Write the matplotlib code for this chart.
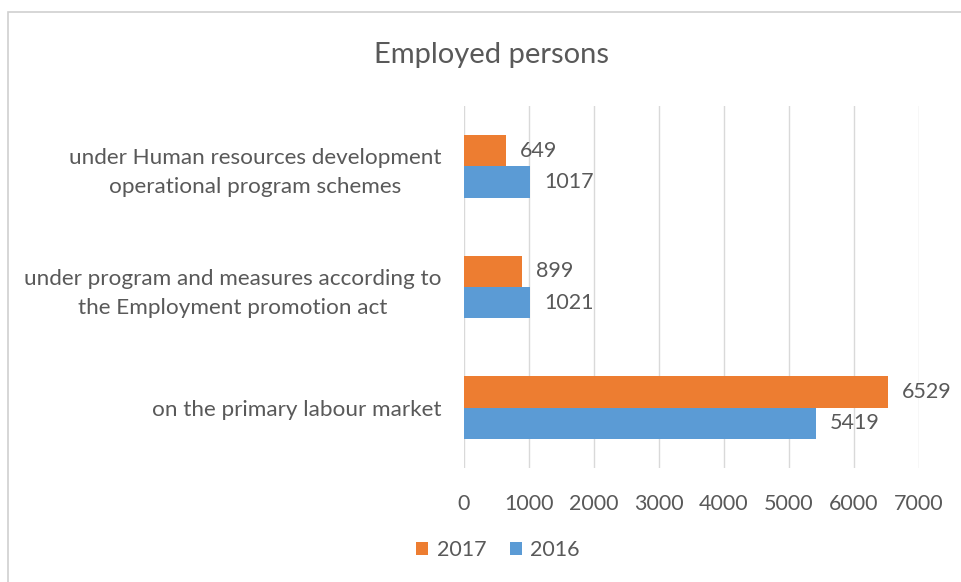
import matplotlib
matplotlib.use("Agg")
import matplotlib.pyplot as plt
from matplotlib.patches import Rectangle
import numpy as np

plt.rcParams['font.family'] = ['Lato', 'DejaVu Sans']

categories = [
    "under Human resources development\noperational program schemes",
    "under program and measures according to\nthe Employment promotion act",
    "on the primary labour market",
]
values_2017 = [649, 899, 6529]
values_2016 = [1017, 1021, 5419]
series_labels = ["2017", "2016"]
x_ticks = [0, 1000, 2000, 3000, 4000, 5000, 6000, 7000]

ORANGE = "#ED7D31"
BLUE = "#5B9BD5"
TEXT = "#595959"
GRID = "#D9D9D9"
FS = 15.5

fig = plt.figure(figsize=(9.62, 5.82), dpi=100)
ax = fig.add_axes([464 / 962, 1 - 468 / 582, (919 - 464) / 962, (468 - 106) / 582])

# outer chart frame (left and top edges visible)
fig.patches.append(Rectangle((8 / 962, -0.1), 1.2, 1 - 12 / 582 + 0.1,
                             transform=fig.transFigure, fill=False,
                             edgecolor="#D0D0D0", linewidth=1.2))

n = len(categories)
pos = np.arange(n)[::-1]  # first category on top
h = 0.26

b17 = ax.barh(pos + h / 2, values_2017, height=h, color=ORANGE, label=series_labels[0], zorder=3)
b16 = ax.barh(pos - h / 2, values_2016, height=h, color=BLUE, label=series_labels[1], zorder=3)

for bars, vals in ((b17, values_2017), (b16, values_2016)):
    for bar, v in zip(bars, vals):
        ax.annotate(f"{v}", (v, bar.get_y() + bar.get_height() / 2),
                    xytext=(10, 0), textcoords="offset points",
                    va="center", ha="left", fontsize=FS, color=TEXT)

ax.set_xlim(0, 7000)
ax.set_ylim(-0.5, n - 0.5)
ax.set_xticks(x_ticks)
ax.set_xticklabels([str(t) for t in x_ticks], fontsize=FS, color=TEXT)
ax.set_yticks(pos)
ax.set_yticklabels(categories, fontsize=16.2, color=TEXT, multialignment="center",
                   linespacing=1.55)
ax.tick_params(axis="both", length=0)
ax.tick_params(axis="x", pad=19)
ax.tick_params(axis="y", pad=16)
ax.grid(axis="x", color=GRID, linewidth=1, zorder=0)
for s in ax.spines.values():
    s.set_visible(False)

fig.text(492 / 962, 1 - 55 / 582, "Employed persons", ha="center", va="center",
         fontsize=21, color=TEXT)

handles = [b17, b16]
fig.legend(handles, series_labels, loc="center", bbox_to_anchor=(498 / 962, 1 - 550 / 582),
           ncol=2, frameon=False, fontsize=FS, labelcolor=TEXT,
           handlelength=0.55, handleheight=0.55, handletextpad=0.4, columnspacing=1.1)

fig.savefig("out.png", dpi=100, facecolor="white")
